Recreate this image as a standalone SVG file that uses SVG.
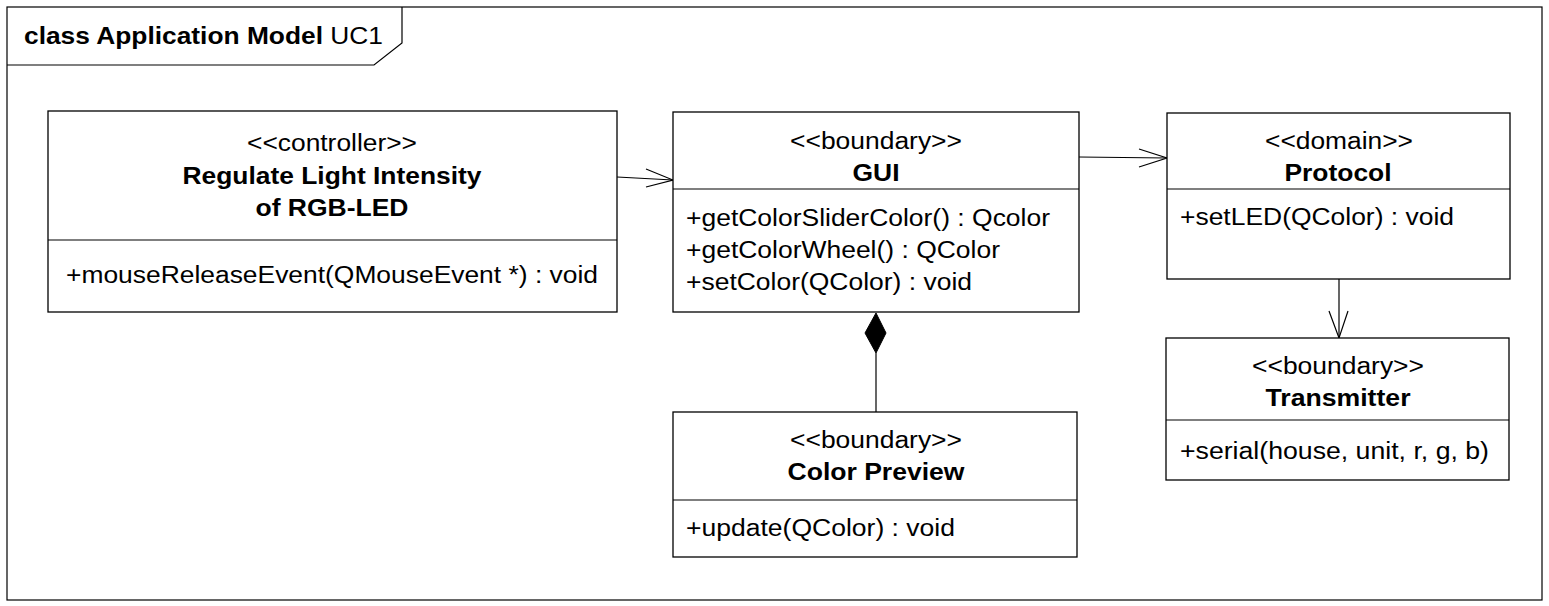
<svg xmlns="http://www.w3.org/2000/svg" width="1549" height="606" viewBox="0 0 1549 606">
<style>
  text { font-family: "Liberation Sans", Arial, sans-serif; font-size: 23px; fill: #000; }
  .c { text-anchor: middle; }
  .b { font-weight: bold; }
  .box { fill: #fff; stroke: #000; stroke-width: 1.3; }
  .ln { stroke: #000; stroke-width: 1.2; fill: none; }
</style>
<rect x="0" y="0" width="1549" height="606" fill="#fff"/>
<g id="frame">
  <rect x="7" y="7" width="1535" height="593" fill="none" stroke="#000" stroke-width="1.2"/>
  <path d="M7,65 L374,65 L402,43 L402,7" class="ln"/>
  <text x="24" y="44" textLength="359" lengthAdjust="spacingAndGlyphs"><tspan class="b">class Application Model </tspan><tspan>UC1</tspan></text>
</g>
<g id="connectors">
  <path d="M617,177 L673,180" class="ln"/>
  <path d="M646,169 L673,180 L646,187" class="ln"/>
  <path d="M1079,157 L1167,158" class="ln"/>
  <path d="M1139,149 L1167,158 L1139,167" class="ln"/>
  <path d="M1339,279 L1339,338" class="ln"/>
  <path d="M1329,311 L1339,338 L1348,311" class="ln"/>
  <path d="M876,353 L876,412" class="ln"/>
  <path d="M876,313 L865,333 L876,353 L886,333 Z" fill="#000" stroke="#000" stroke-width="1"/>
</g>
<g id="controller">
  <rect x="48" y="111" width="569" height="201" class="box"/>
  <line x1="48" y1="240" x2="617" y2="240" class="ln"/>
  <text x="332" y="151" class="c" textLength="170" lengthAdjust="spacingAndGlyphs">&lt;&lt;controller&gt;&gt;</text>
  <text x="332" y="184" class="c b" textLength="299" lengthAdjust="spacingAndGlyphs">Regulate Light Intensity</text>
  <text x="332" y="216" class="c b" textLength="153" lengthAdjust="spacingAndGlyphs">of RGB-LED</text>
  <text x="66" y="283" textLength="532" lengthAdjust="spacingAndGlyphs">+mouseReleaseEvent(QMouseEvent *) : void</text>
</g>
<g id="gui">
  <rect x="673" y="112" width="406" height="200" class="box"/>
  <line x1="673" y1="189" x2="1079" y2="189" class="ln"/>
  <text x="876" y="149" class="c" textLength="172" lengthAdjust="spacingAndGlyphs">&lt;&lt;boundary&gt;&gt;</text>
  <text x="876" y="181" class="c b" textLength="47" lengthAdjust="spacingAndGlyphs">GUI</text>
  <text x="686" y="226" textLength="364" lengthAdjust="spacingAndGlyphs">+getColorSliderColor() : Qcolor</text>
  <text x="686" y="258" textLength="314" lengthAdjust="spacingAndGlyphs">+getColorWheel() : QColor</text>
  <text x="686" y="290" textLength="286" lengthAdjust="spacingAndGlyphs">+setColor(QColor) : void</text>
</g>
<g id="protocol">
  <rect x="1167" y="113" width="343" height="166" class="box"/>
  <line x1="1167" y1="189" x2="1510" y2="189" class="ln"/>
  <text x="1339" y="149" class="c" textLength="148" lengthAdjust="spacingAndGlyphs">&lt;&lt;domain&gt;&gt;</text>
  <text x="1338" y="181" class="c b" textLength="107" lengthAdjust="spacingAndGlyphs">Protocol</text>
  <text x="1180" y="225" textLength="274" lengthAdjust="spacingAndGlyphs">+setLED(QColor) : void</text>
</g>
<g id="transmitter">
  <rect x="1166" y="338" width="343" height="142" class="box"/>
  <line x1="1166" y1="420" x2="1509" y2="420" class="ln"/>
  <text x="1338" y="374" class="c" textLength="172" lengthAdjust="spacingAndGlyphs">&lt;&lt;boundary&gt;&gt;</text>
  <text x="1338" y="406" class="c b" textLength="145" lengthAdjust="spacingAndGlyphs">Transmitter</text>
  <text x="1180" y="459" textLength="309" lengthAdjust="spacingAndGlyphs">+serial(house, unit, r, g, b)</text>
</g>
<g id="colorpreview">
  <rect x="673" y="412" width="404" height="145" class="box"/>
  <line x1="673" y1="500" x2="1077" y2="500" class="ln"/>
  <text x="876" y="448" class="c" textLength="172" lengthAdjust="spacingAndGlyphs">&lt;&lt;boundary&gt;&gt;</text>
  <text x="876" y="480" class="c b" textLength="177" lengthAdjust="spacingAndGlyphs">Color Preview</text>
  <text x="686" y="536" textLength="269" lengthAdjust="spacingAndGlyphs">+update(QColor) : void</text>
</g>
</svg>
